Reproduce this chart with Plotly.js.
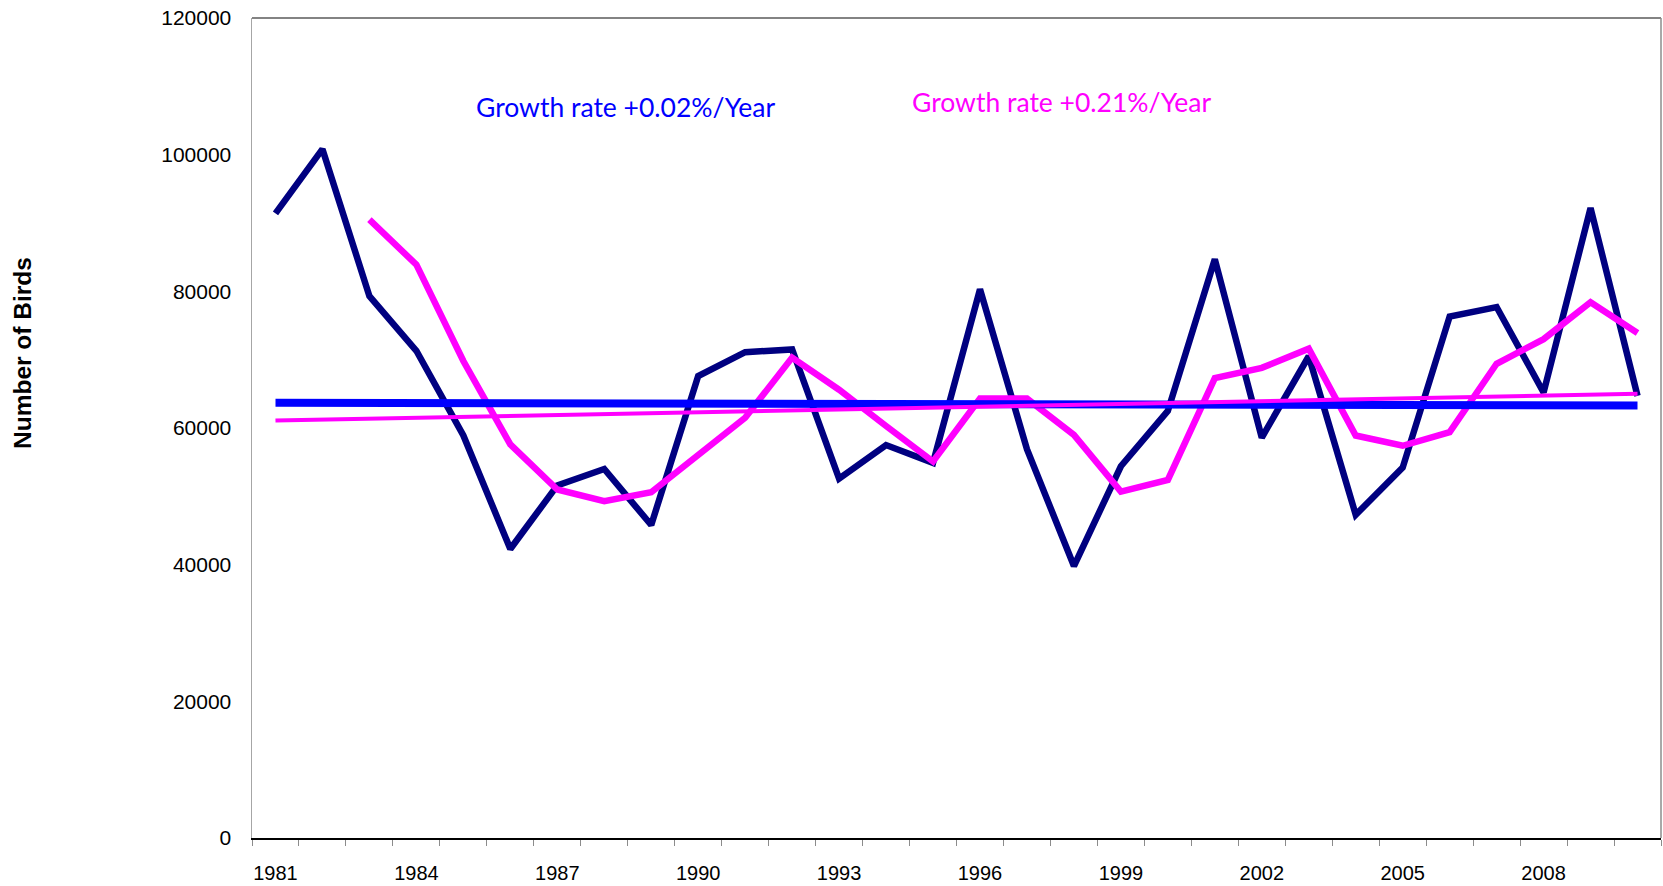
<!DOCTYPE html>
<html>
<head>
<meta charset="utf-8">
<script src="https://cdn.plot.ly/plotly-3.0.1.min.js"></script>
<style>html,body{margin:0;padding:0;background:#fff;}#chart{width:1663px;height:886px;}</style>
</head>
<body>
<div id="chart"></div>
<script>
// Years (categories)
const years = [1981,1982,1983,1984,1985,1986,1987,1988,1989,1990,
               1991,1992,1993,1994,1995,1996,1997,1998,1999,2000,
               2001,2002,2003,2004,2005,2006,2007,2008,2009,2010];
// Annual counts (navy line)
const birdCounts = [91400,100800,79300,71300,58900,42300,51600,54000,45800,67600,
                    71100,71500,52600,57500,54900,80300,56900,39800,54400,62500,
                    84700,58600,70500,47300,54200,76300,77700,65200,92200,64700];
// Moving average (magenta line), starts 1983
const movingAvg = [null,null,90500,83900,69800,57600,51000,49300,50600,56000,
                   61500,70300,65600,60300,55100,64300,64300,59000,50700,52400,
                   67300,68800,71600,58900,57400,59400,69400,73000,78400,73900];
// Trend line end points
const trendYears = [1981, 2010];
const countTrend = [63700, 63300];
const avgTrend = [61100, 65000];
// Tick labels
const tickYears = [1981,1984,1987,1990,1993,1996,1999,2002,2005,2008];
const tickLabels = tickYears.map(String);
const yTicks = [0,20000,40000,60000,80000,100000,120000];
// Texts
const yTitle = 'Number of Birds';
const labelCount = 'Growth rate +0.02%/Year';
const labelAvg = 'Growth rate +0.21%/Year';

const traces = [
  {x: years, y: birdCounts, type: 'scatter', mode: 'lines',
   line: {color: '#000080', width: 6.5}},
  {x: years, y: movingAvg, type: 'scatter', mode: 'lines',
   line: {color: '#FF00FF', width: 6.5}, connectgaps: false},
  {x: trendYears, y: countTrend, type: 'scatter', mode: 'lines',
   line: {color: '#0000FF', width: 8}},
  {x: trendYears, y: avgTrend, type: 'scatter', mode: 'lines',
   line: {color: '#FF00FF', width: 4}}
];

const layout = {
  width: 1663, height: 886,
  margin: {l: 252, r: 2, t: 18, b: 48, pad: 0},
  paper_bgcolor: '#ffffff', plot_bgcolor: '#ffffff',
  showlegend: false,
  font: {family: '"Liberation Sans", Arial, sans-serif', color: '#000', size: 20},
  xaxis: {
    range: [1980.5, 2010.5],
    tickvals: tickYears, ticktext: tickLabels,
    ticks: '', showgrid: false, zeroline: false,
    showline: true, linecolor: '#000000', linewidth: 2,
    tickfont: {family: '"Liberation Sans", Arial, sans-serif', size: 20, color: '#000'},
    ticklabelstandoff: 16,
    minor: {tick0: 1980.5, dtick: 1, ticks: 'outside', ticklen: 6, tickcolor: '#8c8c8c', tickwidth: 1, showgrid: false}
  },
  yaxis: {
    range: [0, 120000], tickvals: yTicks, tickformat: 'd',
    ticks: '', showgrid: false, zeroline: false,
    showline: true, linecolor: '#a6a6a6', linewidth: 1.5,
    tickfont: {family: '"Liberation Sans", Arial, sans-serif', size: 21, color: '#000'},
    ticklabelstandoff: 15
  },
  shapes: [
    {type: 'line', xref: 'paper', yref: 'paper', x0: 0, x1: 1, y0: 1, y1: 1,
     line: {color: '#5a5a5a', width: 1.5}},
    {type: 'line', xref: 'paper', yref: 'paper', x0: 1, x1: 1, y0: 0, y1: 1,
     line: {color: '#8c8c8c', width: 1.5}}
  ],
  annotations: [
    {xref: 'paper', yref: 'paper', x: -0.1625, y: 0.5915, text: '<b>' + yTitle + '</b>',
     showarrow: false, textangle: -90, xanchor: 'center', yanchor: 'middle',
     font: {family: '"Liberation Sans", Arial, sans-serif', size: 24.5, color: '#000'}},
    {xref: 'paper', yref: 'paper', x: 0.2651, y: 0.8909, text: labelCount, showarrow: false,
     xanchor: 'center', yanchor: 'middle',
     font: {family: 'Lato, "Open Sans", sans-serif', size: 26.5, color: '#0000FF'}},
    {xref: 'paper', yref: 'paper', x: 0.5745, y: 0.897, text: labelAvg, showarrow: false,
     xanchor: 'center', yanchor: 'middle',
     font: {family: 'Lato, "Open Sans", sans-serif', size: 26.5, color: '#FF00FF'}}
  ]
};

Plotly.newPlot('chart', traces, layout, {displayModeBar: false, staticPlot: true});
</script>
</body>
</html>
